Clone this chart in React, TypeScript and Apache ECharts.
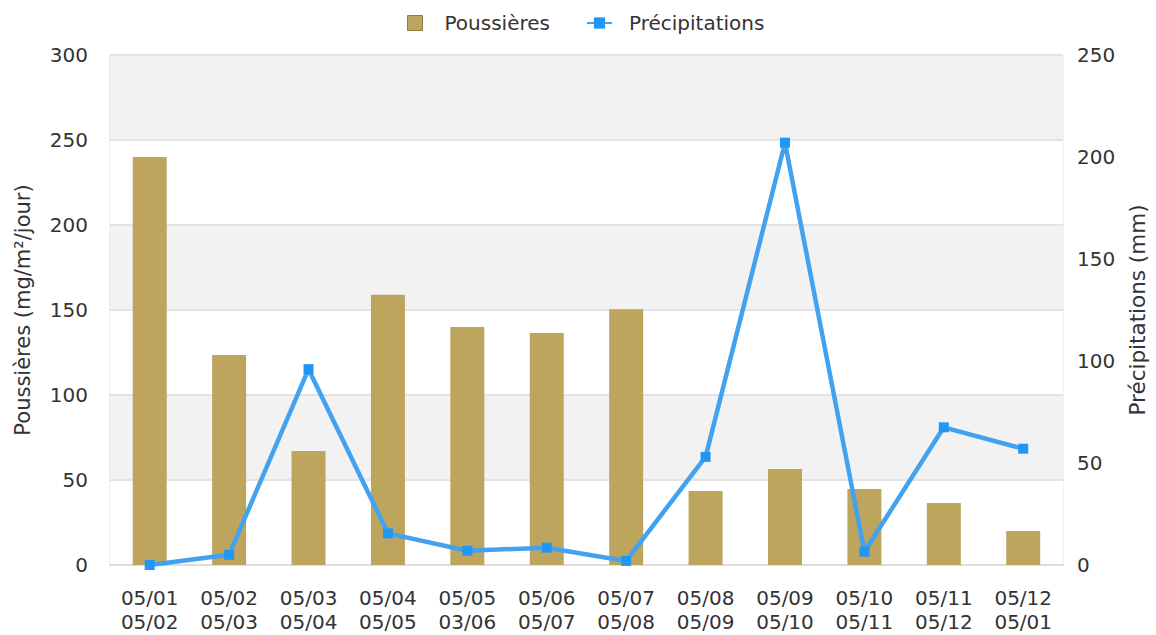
import React, { useEffect, useRef } from "react";
import * as echarts from "echarts";

const categories = [
  "05/01\n05/02", "05/02\n05/03", "05/03\n05/04", "05/04\n05/05", "05/05\n03/06", "05/06\n05/07",
  "05/07\n05/08", "05/08\n05/09", "05/09\n05/10", "05/10\n05/11", "05/11\n05/12", "05/12\n05/01",
];
const dust = [240, 123.5, 67, 159, 140, 136.5, 150.5, 43.5, 56.5, 44.7, 36.5, 20];
const rain = [0, 5, 96, 15.5, 7, 8.5, 2, 53, 207, 6.5, 67.5, 57];
const leftTicks = { min: 0, max: 300, interval: 50 };
const rightTicks = { min: 0, max: 250, interval: 50 };

const FONT = "DejaVu Sans";
const TXT = "#333";

export default function App() {
  const ref = useRef<HTMLDivElement>(null);
  useEffect(() => {
    if (!ref.current) return;
    const chart = echarts.init(ref.current, undefined, { renderer: "svg" });
    chart.setOption({
      animation: false,
      textStyle: { fontFamily: FONT },
      legend: [
        {
          top: 13,
          left: 407,
          padding: 0,
          itemWidth: 15,
          itemHeight: 15,
          textStyle: { fontSize: 20, color: TXT, fontFamily: FONT, padding: [0, 0, 0, 17] },
          data: [{ name: "Poussières", icon: "rect", itemStyle: { borderColor: "#8a7b4f", borderWidth: 1 } }],
        },
        {
          top: 13,
          left: 586,
          padding: 0,
          itemWidth: 25,
          itemHeight: 14,
          textStyle: { fontSize: 20, color: TXT, fontFamily: FONT, padding: [0, 0, 0, 12] },
          data: [{ name: "Précipitations" }],
        },
      ],
      grid: {
        left: 110, right: 84, top: 55, bottom: 70,
        show: true, borderColor: "#dddddd", borderWidth: 1,
      },
      xAxis: {
        type: "category",
        data: categories,
        axisLine: { show: true, lineStyle: { color: "#dddddd", width: 2 } },
        axisTick: { show: false },
        axisLabel: { color: TXT, fontSize: 20, lineHeight: 24, margin: 21, fontFamily: FONT, interval: 0 },
      },
      yAxis: [
        {
          type: "value",
          ...leftTicks,
          name: "Poussières (mg/m²/jour)",
          nameLocation: "middle",
          nameGap: 77,
          nameTextStyle: { color: TXT, fontSize: 21, fontFamily: FONT },
          axisLine: { show: false },
          axisTick: { show: false },
          axisLabel: { color: TXT, fontSize: 20, margin: 22, fontFamily: FONT },
          splitLine: { show: true, lineStyle: { color: "#e3e3e3", width: 2 } },
          splitArea: { show: true, areaStyle: { color: ["#ffffff", "#f2f2f2"] } },
        },
        {
          type: "value",
          ...rightTicks,
          name: "Précipitations (mm)",
          nameLocation: "middle",
          nameGap: 60,
          nameTextStyle: { color: TXT, fontSize: 21.5, fontFamily: FONT },
          axisLine: { show: false },
          axisTick: { show: false },
          axisLabel: { color: TXT, fontSize: 20, margin: 14, fontFamily: FONT },
          splitLine: { show: false },
        },
      ],
      series: [
        {
          name: "Poussières",
          type: "bar",
          yAxisIndex: 0,
          barWidth: 34,
          itemStyle: { color: "#bda55d" },
          data: dust,
        },
        {
          name: "Précipitations",
          type: "line",
          yAxisIndex: 1,
          symbol: "rect",
          symbolSize: 10,
          lineStyle: { color: "#42a2f0", width: 4.5 },
          itemStyle: { color: "#2196f3" },
          data: rain,
        },
      ],
    });
    return () => chart.dispose();
  }, []);
  return <div ref={ref} style={{ position: "absolute", left: 0, top: 0, width: 1156, height: 635 }} />;
}
